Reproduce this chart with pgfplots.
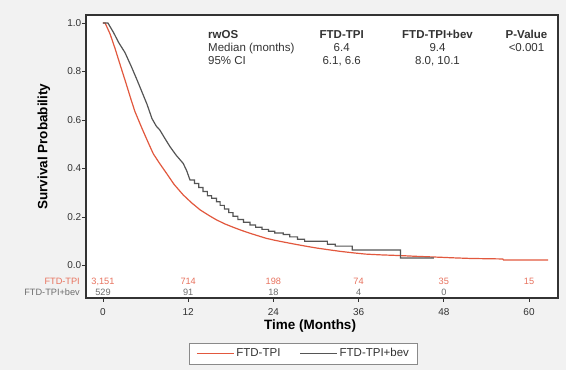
\documentclass[border=0pt]{standalone}
\usepackage{pgfplots}
\pgfplotsset{compat=1.18}
\pgfplotsset{legend image code/.code={\draw[#1] (0pt,0pt) -- (37pt,0pt);}}
\usepackage{fontspec}
\setmainfont{Liberation Sans}
\definecolor{bgcol}{HTML}{F2F2F2}
\definecolor{redline}{HTML}{E2583E}
\definecolor{redtxt}{HTML}{E8735F}
\definecolor{grayline}{HTML}{555555}
\definecolor{graytxt}{HTML}{6E6E6E}
\definecolor{framecol}{HTML}{333333}
\definecolor{legcol}{HTML}{8A8A8A}
\tikzset{
  redn/.style={text=redtxt, font=\fontsize{9.2}{11}\selectfont, inner sep=0pt},
  grayn/.style={text=graytxt, font=\fontsize{9.2}{11}\selectfont, inner sep=0pt},
}
\begin{document}
\begin{tikzpicture}[x=1pt,y=1pt]
\fill[bgcol] (0,0) rectangle (566,370);
\fill[white] (189.5,6) rectangle (417.5,27);
\begin{axis}[
  at={(86pt,72pt)}, anchor=south west,
  scale only axis, width=472pt, height=283pt,
  xmin=-2.39, xmax=64.08, ymin=-0.134, ymax=1.033,
  axis background/.style={fill=white},
  axis line style={draw=framecol, line width=1.1pt},
  xtick={0,12,24,36,48,60}, ytick={0,0.2,0.4,0.6,0.8,1.0},
  tick align=outside, tick pos=left,
  major tick length=4pt,
  tick style={draw=framecol, line width=0.9pt},
  /pgf/number format/assume math mode=true,
  yticklabel style={/pgf/number format/fixed, /pgf/number format/fixed zerofill, /pgf/number format/precision=1, inner xsep=0.6pt},
  xticklabel style={yshift=-3.2pt},
  tick label style={font=\fontsize{10}{12}\selectfont, text=framecol},
  xlabel={Time (Months)},
  xlabel style={font=\bfseries\fontsize{13.5}{16}\selectfont, at={(axis description cs:0.4746,-0.099)}, anchor=center},
  ylabel={Survival Probability},
  ylabel style={font=\bfseries\fontsize{13.5}{16}\selectfont, at={(axis description cs:-0.089,0.535)}, anchor=center},
  legend columns=2,
  legend style={at={(axis description cs:0.461,-0.196)}, anchor=center, draw=none, fill=none,
    font=\fontsize{11.5}{13}\selectfont, text=framecol, inner xsep=5pt, inner ysep=3pt,
    /tikz/every even column/.append style={column sep=17pt}},
  clip=false,
]
\addplot[draw=redline, line width=1.2pt] coordinates {
(0,1.0) (0.3,1.0) (1.0,0.955) (1.7,0.895) (2.5,0.82) (3.1,0.765) (4.0,0.68) (4.5,0.635)
(5.5,0.565) (6.4,0.505) (7.1,0.46) (8.0,0.42) (9.0,0.378) (10.0,0.335) (11.3,0.291)
(12.5,0.258) (13.7,0.229) (15.0,0.205) (16.0,0.188) (17.2,0.171) (18.4,0.157) (19.5,0.145)
(20.7,0.133) (22.0,0.121) (23.0,0.112) (24.2,0.104) (25.4,0.097) (27,0.088) (28.5,0.080)
(30.1,0.072) (32,0.064) (33.5,0.058) (35.3,0.052) (37,0.047) (39,0.044) (41.8,0.041)
(44,0.038) (47.5,0.034) (49,0.032) (51.8,0.029) (54,0.028) (56.3,0.027) (56.4,0.023) (62.7,0.023)
};
\addlegendentry{FTD-TPI}
\addplot[draw=grayline, line width=1.2pt] coordinates {
(0,1.0) (0.7,1.0) (1.5,0.96) (2.2,0.92) (3.1,0.878) (4.0,0.82) (4.8,0.765) (5.5,0.715)
(6.2,0.665) (6.9,0.606) (7.5,0.575) (8.0,0.559) (8.7,0.525) (9.44,0.49) (10.3,0.455)
(11.3,0.421) (11.8,0.39) (12.25,0.353)
(12.9,0.353) (12.9,0.338) (13.5,0.338) (13.5,0.322) (14.1,0.322) (14.1,0.305)
(14.7,0.305) (14.7,0.288) (15.3,0.288) (15.3,0.277) (16.0,0.277) (16.0,0.263)
(16.5,0.263) (16.5,0.248) (17.1,0.248) (17.1,0.233) (17.7,0.233) (17.7,0.218)
(18.3,0.218) (18.3,0.203) (19.0,0.203) (19.0,0.190) (19.8,0.190) (19.8,0.178)
(20.7,0.178) (20.7,0.167) (21.5,0.167) (21.5,0.158) (22.4,0.158) (22.4,0.149)
(23.3,0.149) (23.3,0.141) (24.2,0.141) (24.2,0.134) (25.4,0.134) (25.4,0.128)
(26.3,0.128) (26.3,0.118) (27.4,0.118) (27.4,0.108) (28.4,0.108) (28.4,0.100)
(31.6,0.100) (31.6,0.088) (32.7,0.088) (32.7,0.080) (35.1,0.080) (35.1,0.064)
(41.9,0.064) (41.9,0.031) (46.6,0.031)
};
\addlegendentry{FTD-TPI+bev}
% numbers at risk
\node[redn] at (axis cs:0,-0.067) {3,151};
\node[redn] at (axis cs:12,-0.067) {714};
\node[redn] at (axis cs:24,-0.067) {198};
\node[redn] at (axis cs:36,-0.067) {74};
\node[redn] at (axis cs:48,-0.067) {35};
\node[redn] at (axis cs:60,-0.067) {15};
\node[grayn] at (axis cs:0,-0.110) {529};
\node[grayn] at (axis cs:12,-0.110) {91};
\node[grayn] at (axis cs:24,-0.110) {18};
\node[grayn] at (axis cs:36,-0.110) {4};
\node[grayn] at (axis cs:48,-0.110) {0};
\end{axis}
\draw[legcol, line width=0.8pt] (189.5,6) rectangle (417.5,27);
\node[redn, anchor=east] at (80,88.3) {FTD-TPI};
\node[grayn, anchor=east] at (80,77.7) {FTD-TPI+bev};
% stats table
\begin{scope}[every node/.style={inner sep=0pt, font=\fontsize{11.5}{13}\selectfont, text=framecol}]
\node[anchor=base west, font=\bfseries\fontsize{11.5}{13}\selectfont] at (208,331.6) {rwOS};
\node[anchor=base west] at (208,318.4) {Median (months)};
\node[anchor=base west] at (208,305.2) {95\% CI};
\node[anchor=base, font=\bfseries\fontsize{11.5}{13}\selectfont] at (341.7,331.6) {FTD-TPI};
\node[anchor=base] at (341.7,318.4) {6.4};
\node[anchor=base] at (341.7,305.2) {6.1, 6.6};
\node[anchor=base, font=\bfseries\fontsize{11.5}{13}\selectfont] at (437.5,331.6) {FTD-TPI+bev};
\node[anchor=base] at (437.5,318.4) {9.4};
\node[anchor=base] at (437.5,305.2) {8.0, 10.1};
\node[anchor=base, font=\bfseries\fontsize{11.5}{13}\selectfont] at (526.5,331.6) {P-Value};
\node[anchor=base] at (526.5,318.4) {<0.001};
\end{scope}
\end{tikzpicture}
\end{document}
